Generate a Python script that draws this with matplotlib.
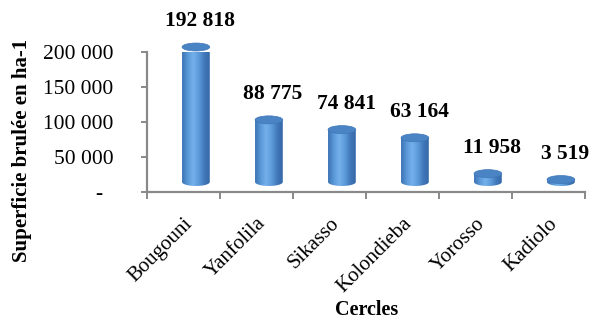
import numpy as np
import matplotlib
matplotlib.use("Agg")
import matplotlib.pyplot as plt
from matplotlib.patches import Ellipse, PathPatch
from matplotlib.path import Path
from matplotlib.colors import LinearSegmentedColormap

# Burned area per cercle (ha)
cercles = ["Bougouni", "Yanfolila", "Sikasso", "Kolondieba", "Yorosso", "Kadiolo"]
superficie = [192818, 88775, 74841, 63164, 11958, 3519]
value_labels = ["192 818", "88 775", "74 841", "63 164", "11 958", "3 519"]
yticks = [0, 50000, 100000, 150000, 200000]
ytick_labels = ["-  ", "50 000", "100 000", "150 000", "200 000"]

plt.rcParams["font.family"] = ["Liberation Serif", "DejaVu Serif"]

fig = plt.figure(figsize=(5.94, 3.22), dpi=100)
ax = fig.add_axes([147 / 594, 130 / 322, 438 / 594, 140 / 322])
ax.set_xlim(-0.5, len(cercles) - 0.5)
ax.set_ylim(0, 200000)

# pseudo-3D cylinder geometry (depth shift right and up)
shift_x = 0.17
width = 0.38
base = 14300
ry = 5700

body_cmap = LinearSegmentedColormap.from_list(
    "body", ["#3c74b4", "#5a98d8", "#74b0ea", "#5d9bdb", "#4279bb", "#3567a6"])

for i, v in enumerate(superficie):
    cx = i + shift_x
    x0, x1 = cx - width / 2, cx + width / 2
    top = base + v
    # body: rectangle with a rounded (half-ellipse) bottom
    t = np.linspace(np.pi, 2 * np.pi, 40)
    bottom = np.column_stack([cx + width / 2 * np.cos(t), base + ry * np.sin(t)])
    verts = np.vstack([[[x0, top]], bottom, [[x1, top]], [[x0, top]]])
    codes = [Path.MOVETO] + [Path.LINETO] * (len(verts) - 2) + [Path.CLOSEPOLY]
    body = PathPatch(Path(verts, codes), facecolor="none", edgecolor="none")
    ax.add_patch(body)
    body.set_clip_on(False)
    grad = np.linspace(0, 1, 64).reshape(1, -1)
    im = ax.imshow(grad, cmap=body_cmap, aspect="auto",
                   extent=[x0, x1, base - ry, top], origin="lower",
                   zorder=2, clip_on=True)
    im.set_clip_path(body)
    # top cap
    cap = Ellipse((cx, top), width, 2 * ry, facecolor="#4a84c5",
                  edgecolor="#3f78b8", linewidth=0.5, zorder=3, clip_on=False)
    ax.add_patch(cap)
    ax.annotate(value_labels[i], (cx, top), xytext=(3, 15),
                textcoords="offset points", ha="center", va="baseline",
                fontsize=15.5, fontweight="bold", annotation_clip=False)

ax.set_xlim(-0.5, len(cercles) - 0.5)
ax.set_ylim(0, 200000)

# axes styling
for s in ["top", "right"]:
    ax.spines[s].set_visible(False)
for s in ["left", "bottom"]:
    ax.spines[s].set_color("#898989")
    ax.spines[s].set_linewidth(1.6)

ax.set_yticks(yticks)
ax.set_yticklabels(ytick_labels)
ax.tick_params(axis="y", length=4, width=1.4, color="#898989", pad=20,
               labelsize=15.5)

ax.set_xticks(range(len(cercles)))
ax.set_xticklabels(cercles, rotation=45, ha="right", rotation_mode="anchor",
                   fontsize=15)
ax.tick_params(axis="x", which="major", length=0, pad=16)
ax.set_xticks(np.arange(-0.5, len(cercles)), minor=True)
ax.tick_params(axis="x", which="minor", length=5, width=1.4, color="#898989")

fig.text(22 / 594, 1 - 150 / 322, "Superficie brulée en ha-1", rotation=90,
         ha="center", va="center", fontsize=15, fontweight="bold")
fig.text(367 / 594, 1 - 310 / 322, "Cercles", ha="center", va="center",
         fontsize=14.5, fontweight="bold")

fig.savefig("out.png", dpi=100)
